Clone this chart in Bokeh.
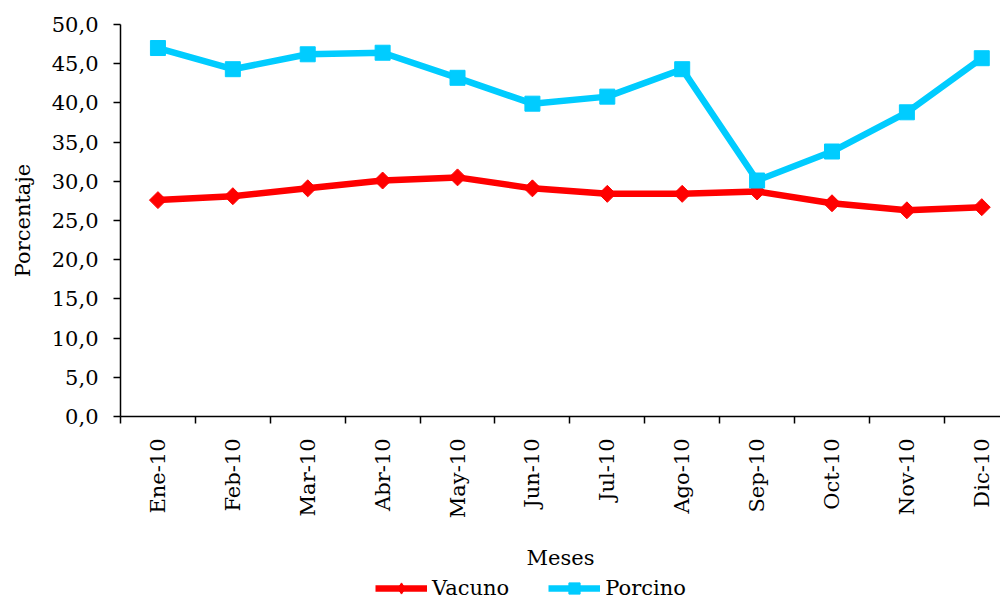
import math
from bokeh.plotting import figure
from bokeh.layouts import column
from bokeh.models import FixedTicker, Legend, LegendItem, Range1d
from bokeh.embed import file_html
from bokeh.resources import INLINE

meses = ["Ene-10", "Feb-10", "Mar-10", "Abr-10", "May-10", "Jun-10",
         "Jul-10", "Ago-10", "Sep-10", "Oct-10", "Nov-10", "Dic-10"]
vacuno = [27.6, 28.1, 29.1, 30.1, 30.5, 29.1, 28.4, 28.4, 28.7, 27.2, 26.3, 26.7]
porcino = [47.0, 44.3, 46.2, 46.4, 43.2, 39.9, 40.8, 44.3, 30.1, 33.8, 38.8, 45.7]
y_ticks = [0, 5, 10, 15, 20, 25, 30, 35, 40, 45, 50]

FONT = "DejaVu Serif"
RED = "#FF0000"
BLUE = "#00CCFF"

xs = list(range(len(meses)))


def draw_series(fig, legend_style=False):
    rv_l = fig.line(xs, vacuno, line_color=RED, line_width=6.5)
    if legend_style:
        rv_m = fig.scatter(xs, vacuno, marker="diamond", size=16,
                           fill_color=RED, line_color=RED)
    else:
        rv_m = fig.scatter(xs, vacuno, marker="square", angle=math.pi / 4, size=12,
                           fill_color=RED, line_color=RED)
    rp_l = fig.line(xs, porcino, line_color=BLUE, line_width=6.5)
    rp_m = fig.scatter(xs, porcino, marker="square", size=15,
                       fill_color=BLUE, line_color=BLUE)
    return rv_l, rv_m, rp_l, rp_m


p = figure(output_backend="svg", toolbar_location=None,
           width=1000, height=574,
           x_range=Range1d(-0.5, 11.25), y_range=Range1d(0, 50),
           min_border_left=120, min_border_top=24, min_border_right=0,
           min_border_bottom=158)
p.outline_line_color = None
p.xgrid.grid_line_color = None
p.ygrid.grid_line_color = None
p.background_fill_color = "white"
p.border_fill_color = "white"

draw_series(p)

# x axis
p.xaxis.ticker = FixedTicker(ticks=xs, minor_ticks=[i - 0.5 for i in range(len(meses) + 1)])
p.xaxis.major_label_overrides = {i: m for i, m in enumerate(meses)}
p.xaxis.major_label_orientation = 1.5708
p.xaxis.major_tick_line_color = None
p.xaxis.minor_tick_line_color = "black"
p.xaxis.minor_tick_line_width = 1.5
p.xaxis.minor_tick_out = 7
p.xaxis.minor_tick_in = 0
p.xaxis.axis_line_width = 1.5
p.xaxis.axis_line_color = "black"
p.xaxis.major_label_text_font = FONT
p.xaxis.major_label_text_font_size = "21px"
p.xaxis.major_label_text_color = "black"
p.xaxis.major_label_standoff = 15
p.xaxis.axis_label = "Meses"
p.xaxis.axis_label_text_font = FONT
p.xaxis.axis_label_text_font_size = "21px"
p.xaxis.axis_label_text_font_style = "normal"
p.xaxis.axis_label_text_color = "black"
p.xaxis.axis_label_standoff = 25

# y axis
p.yaxis.ticker = FixedTicker(ticks=y_ticks, minor_ticks=[])
p.yaxis.major_label_overrides = {v: f"{v:.1f}".replace(".", ",") for v in y_ticks}
p.yaxis.major_tick_line_color = "black"
p.yaxis.major_tick_line_width = 1.5
p.yaxis.major_tick_out = 7
p.yaxis.major_tick_in = 0
p.yaxis.axis_line_width = 1.5
p.yaxis.axis_line_color = "black"
p.yaxis.major_label_text_font = FONT
p.yaxis.major_label_text_font_size = "21px"
p.yaxis.major_label_text_color = "black"
p.yaxis.major_label_standoff = 15
p.yaxis.axis_label = "Porcentaje"
p.yaxis.axis_label_text_font = FONT
p.yaxis.axis_label_text_font_size = "21px"
p.yaxis.axis_label_text_font_style = "normal"
p.yaxis.axis_label_text_color = "black"
p.yaxis.axis_label_standoff = 14

# legend strip below the chart (series drawn out of view, legend only)
lg = figure(output_backend="svg", toolbar_location=None,
            width=1000, height=28,
            x_range=Range1d(-0.5, 11.25), y_range=Range1d(100, 101),
            x_axis_type=None, y_axis_type=None,
            min_border_left=0, min_border_top=0, min_border_right=0,
            min_border_bottom=0)
lg.outline_line_color = None
lg.xgrid.grid_line_color = None
lg.ygrid.grid_line_color = None
lg.background_fill_color = "white"
lg.border_fill_color = "white"
rv_l, rv_m, rp_l, rp_m = draw_series(lg, legend_style=True)

legend = Legend(items=[
    LegendItem(label="Vacuno", renderers=[rv_l, rv_m]),
    LegendItem(label="Porcino", renderers=[rp_l, rp_m]),
], orientation="horizontal", location=(255, 0),
    label_text_font=FONT, label_text_font_size="21px", label_text_color="black",
    glyph_width=52, glyph_height=28, spacing=39, padding=0, margin=0,
    border_line_color=None, background_fill_alpha=0, label_standoff=5)
lg.add_layout(legend, "center")

layout = column(p, lg, spacing=0)

open("out.html", "w").write(file_html(layout, INLINE))
